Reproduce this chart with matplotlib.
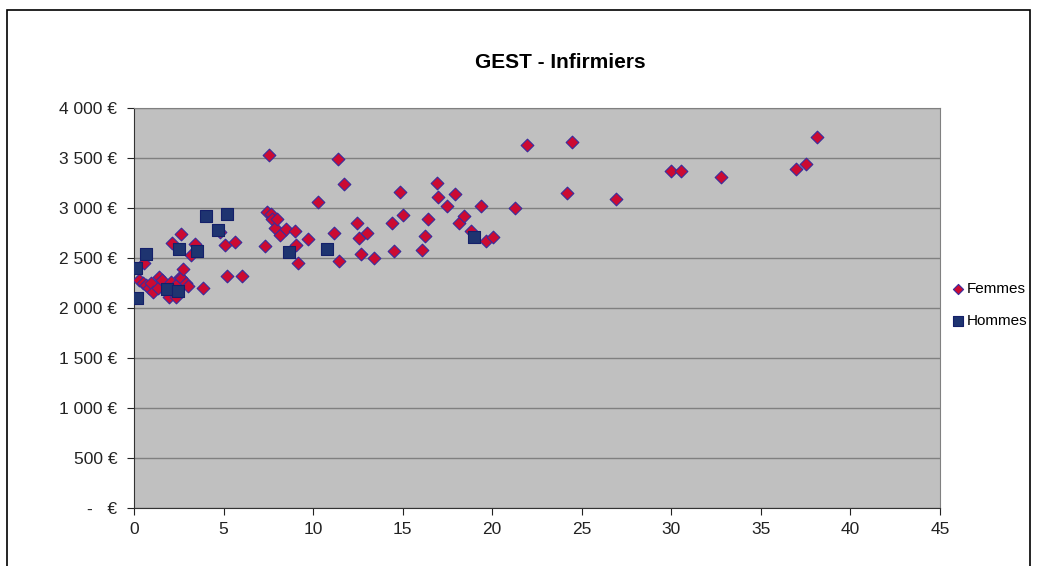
import matplotlib
matplotlib.use("Agg")
from matplotlib import pyplot as plt
from matplotlib.patches import Rectangle
from matplotlib.ticker import FuncFormatter

plt.rcParams['font.family'] = ['Liberation Sans', 'DejaVu Sans']

# Femmes
femmes_x = [0.29, 0.48, 0.57, 0.67, 0.85, 0.95, 1.07, 1.35, 1.41, 1.56, 1.97, 2.04, 2.35, 2.47,
            2.56, 2.65, 2.75, 2.93, 3.04, 3.87, 2.12, 2.65, 3.16, 3.40, 4.80, 5.10, 5.20, 5.63,
            6.04, 7.30, 7.45, 7.55, 7.66, 7.73, 7.88, 7.97, 8.14, 8.47, 9.00, 9.06, 9.17, 9.73,
            10.30, 11.14, 11.40, 11.47, 11.75, 12.43, 12.54, 12.70, 12.99, 13.38, 14.40, 14.50,
            14.85, 15.01, 16.07, 16.24, 16.40, 16.92, 16.97, 17.50, 17.94, 18.16, 18.45, 18.80,
            19.40, 19.68, 20.03, 21.26, 21.93, 24.16, 24.44, 26.92, 29.98, 30.52, 32.76, 36.98,
            37.54, 38.12]
femmes_y = [2280, 2247, 2450, 2230, 2197, 2247, 2163, 2197, 2313, 2280, 2113, 2263, 2113, 2247,
            2313, 2297, 2392, 2247, 2225, 2197, 2653, 2740, 2530, 2645, 2760, 2630, 2318, 2665,
            2318, 2620, 2963, 3530, 2940, 2887, 2803, 2890, 2727, 2787, 2773, 2630, 2447, 2693,
            3063, 2753, 3487, 2470, 3237, 2847, 2703, 2537, 2753, 2500, 2853, 2570,
            3163, 2933, 2580, 2720, 2890, 3247, 3113, 3023, 3137, 2850, 2923, 2770,
            3023, 2673, 2707, 3003, 3627, 3153, 3657, 3087, 3373, 3373, 3307, 3387,
            3437, 3707]

# Hommes
hommes_x = [0.09, 0.15, 0.65, 1.83, 2.44, 2.50, 3.50, 4.00, 4.68, 5.18, 8.63, 10.77, 18.99]
hommes_y = [2403, 2103, 2537, 2187, 2173, 2587, 2567, 2920, 2780, 2940, 2563, 2587, 2713]

y_ticks = list(range(0, 4001, 500))
x_ticks = list(range(0, 46, 5))


def euro_fmt(v, pos):
    if v == 0:
        return '-   €'
    return f'{int(v):,} €'.replace(',', ' ')


fig = plt.figure(figsize=(10.37, 5.66), dpi=100)
ax = fig.add_axes([134 / 1037, 1 - 508 / 566, (940 - 134) / 1037, 400 / 566])

# cadre extérieur
fig.patches.append(Rectangle((7 / 1037, -0.05), (1030 - 7) / 1037, 1.05 - 10 / 566,
                             transform=fig.transFigure, fill=False, edgecolor='black',
                             linewidth=1.2))

ax.set_facecolor('#C0C0C0')
ax.set_xlim(0, 45)
ax.set_ylim(0, 4000)
ax.set_yticks(y_ticks)
ax.set_xticks(x_ticks)
ax.yaxis.set_major_formatter(FuncFormatter(euro_fmt))
ax.grid(axis='y', color='#808080', linewidth=1.0)
ax.set_axisbelow(True)
ax.tick_params(axis='both', direction='out', length=5, labelsize=12.5, colors='#222222')
ax.tick_params(axis='y', pad=7)
ax.tick_params(axis='x', pad=5)
for side in ['top', 'right']:
    ax.spines[side].set_color('#808080')
for side in ['left', 'bottom']:
    ax.spines[side].set_color('#333333')

ax.scatter(femmes_x, femmes_y, marker='D', s=42, facecolor='#CC0A32', edgecolor='#3A2C9C',
           linewidth=0.8, label='Femmes', zorder=3)
ax.scatter(hommes_x, hommes_y, marker='s', s=66, facecolor='#1E3470', edgecolor='#14206A',
           linewidth=0.8, label='Hommes', zorder=3)

fig.text(560 / 1037, 1 - 63 / 566, 'GEST - Infirmiers', fontsize=15, fontweight='bold',
         ha='center', va='center')

fig.legend(loc='center left', bbox_to_anchor=(937 / 1037, 1 - 305 / 566), frameon=False,
           fontsize=11, handletextpad=0.05, labelspacing=1.2, markerscale=0.8, handlelength=1.0)

fig.savefig('out.png', dpi=100)
